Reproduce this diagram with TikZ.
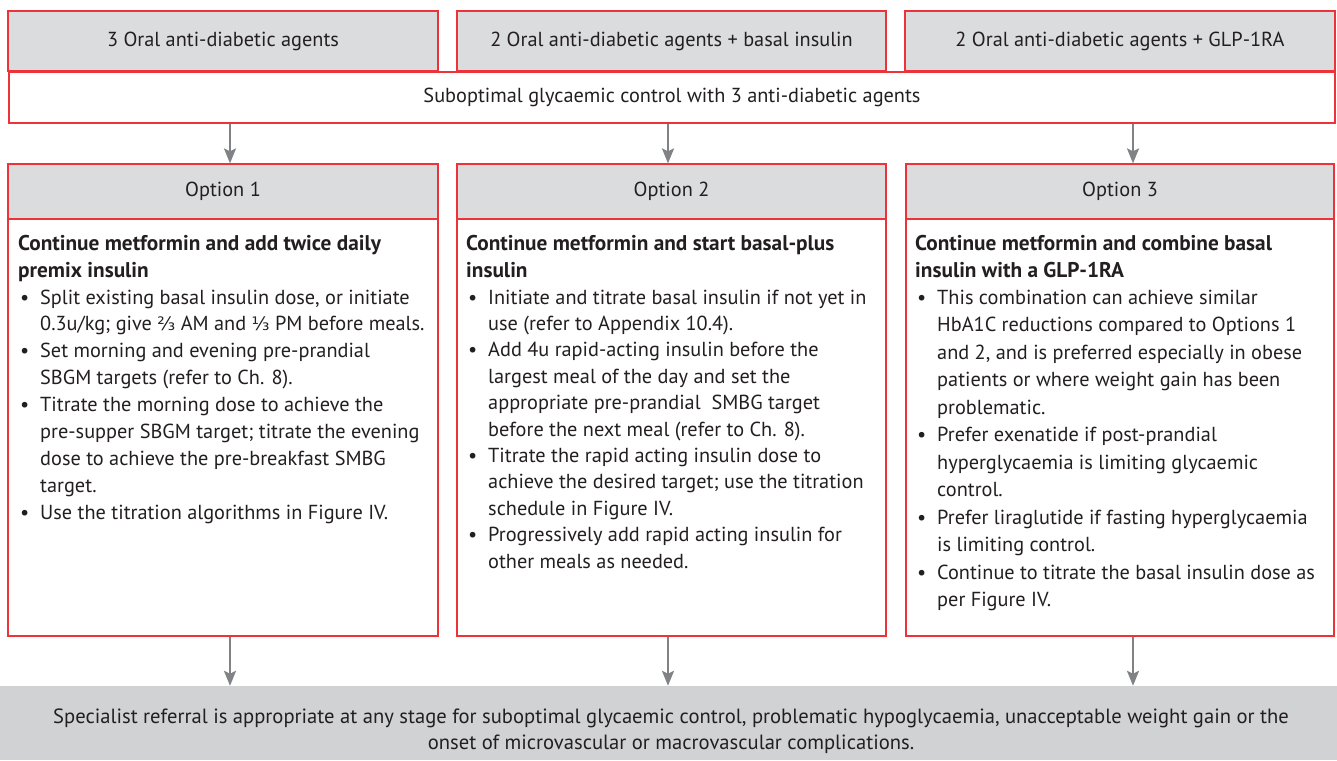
\documentclass[tikz,border=0pt]{standalone}
\usepackage{fontspec}
\setmainfont{PT Sans}
\newfontfamily\dejavu{DejaVu Sans}
\usetikzlibrary{arrows.meta}
\definecolor{boxred}{RGB}{237,50,58}
\definecolor{hdrgray}{RGB}{219,220,222}
\definecolor{botgray}{RGB}{209,210,212}
\definecolor{arrgray}{RGB}{128,130,133}
\definecolor{txt}{RGB}{35,31,32}
\newcommand{\sizeat}[1]{\fontsize{20.3}{#1}\selectfont\setbox\strutbox\hbox{\vrule height 0.7\baselineskip depth 0.3\baselineskip width 0pt}}
\newcommand{\bodysize}{\sizeat{27.3}}
\newcommand{\bt}{\hspace{2pt}\textbullet}
\newcommand{\fr}[1]{{\dejavu\fontsize{18.5}{20}\selectfont #1}}
\tikzset{
  hdrbox/.style={draw=boxred, line width=1.2pt, fill=hdrgray, inner sep=0pt, text=txt, font=\bodysize},
  whitebox/.style={draw=boxred, line width=1.2pt, fill=white, inner sep=0pt, text=txt, font=\bodysize},
  boldtext/.style={inner sep=0pt, anchor=base west, text=txt, align=left, font=\fontsize{21.3}{27}\selectfont\bfseries},
  bodytext/.style={inner sep=0pt, anchor=base west, text=txt},
  arr/.style={draw=arrgray, line width=2.4pt, -{Stealth[width=12pt,length=15pt,inset=3pt]}},
}
\begin{document}
\begin{tikzpicture}[x=1pt,y=-1pt]
\useasboundingbox (0,0) rectangle (1337,760);
% top row
\node[hdrbox, minimum width=430pt, minimum height=60pt] (t1) at (223,41) {3 Oral anti-diabetic agents};
\node[hdrbox, minimum width=429pt, minimum height=60pt] (t2) at (671.5,41) {2 Oral anti-diabetic agents + basal insulin};
\node[hdrbox, minimum width=430pt, minimum height=60pt] (t3) at (1120,41) {2 Oral anti-diabetic agents + GLP-1RA};
\node[whitebox, minimum width=1326pt, minimum height=51pt] (sub) at (672,97.5) {Suboptimal glycaemic control with 3 anti-diabetic agents};
% option headers
\node[hdrbox, minimum width=430pt, minimum height=55pt] (o1) at (223,191.5) {Option 1};
\node[hdrbox, minimum width=429pt, minimum height=55pt] (o2) at (671.5,191.5) {Option 2};
\node[hdrbox, minimum width=428pt, minimum height=55pt] (o3) at (1120,191.5) {Option 3};
% option bodies
\node[whitebox, minimum width=430pt, minimum height=417pt] (b1) at (223,427.5) {};
\node[whitebox, minimum width=429pt, minimum height=417pt] (b2) at (671.5,427.5) {};
\node[whitebox, minimum width=428pt, minimum height=417pt] (b3) at (1120,427.5) {};
% bottom
\node[fill=botgray, draw=none, minimum width=1337pt, minimum height=74pt, inner sep=0pt] (bot) at (668.5,723) {};
\node[text=txt, align=center, font=\fontsize{20.6}{26}\selectfont, inner sep=0pt] (bottxt) at (671,731) {Specialist referral is appropriate at any stage for suboptimal glycaemic control, problematic hypoglycaemia, unacceptable weight gain or the\\onset of microvascular or macrovascular complications.};
% body headings (base anchor = last line)
\node[boldtext] (h1) at (18,277) {Continue metformin and add twice daily\\premix insulin};
\node[boldtext] (h2) at (466,277) {Continue metformin and start basal-plus\\insulin};
\node[boldtext] (h3) at (915,277) {Continue metformin and combine basal\\insulin with a GLP-1RA};
% body texts
\node[bodytext, font=\sizeat{26.9}] (x1) at (18,304) {\begin{tabular}[t]{@{}p{22pt}@{}l@{}}
\bt & Split existing basal insulin dose, or initiate\\
 & 0.3u/kg; give \fr{⅔} AM and \fr{⅓} PM before meals.\\
\bt & Set morning and evening pre-prandial\\
 & SBGM targets (refer to Ch. 8).\\
\bt & Titrate the morning dose to achieve the\\
 & pre-supper SBGM target; titrate the evening\\
 & dose to achieve the pre-breakfast SMBG\\
 & target.\\
\bt & Use the titration algorithms in Figure IV.
\end{tabular}};
\node[bodytext, font=\sizeat{26.4}] (x2) at (466,304) {\begin{tabular}[t]{@{}p{22pt}@{}l@{}}
\bt & Initiate and titrate basal insulin if not yet in\\
 & use (refer to Appendix 10.4).\\
\bt & Add 4u rapid-acting insulin before the\\
 & largest meal of the day and set the\\
 & appropriate pre-prandial\ \ SMBG target\\
 & before the next meal (refer to Ch. 8).\\
\bt & Titrate the rapid acting insulin dose to\\
 & achieve the desired target; use the titration\\
 & schedule in Figure IV.\\
\bt & Progressively add rapid acting insulin for\\
 & other meals as needed.
\end{tabular}};
\node[bodytext, font=\sizeat{27.5}] (x3) at (915,304) {\begin{tabular}[t]{@{}p{22pt}@{}l@{}}
\bt & This combination can achieve similar\\
 & HbA1C reductions compared to Options 1\\
 & and 2, and is preferred especially in obese\\
 & patients or where weight gain has been\\
 & problematic.\\
\bt & Prefer exenatide if post-prandial\\
 & hyperglycaemia is limiting glycaemic\\
 & control.\\
\bt & Prefer liraglutide if fasting hyperglycaemia\\
 & is limiting control.\\
\bt & Continue to titrate the basal insulin dose as\\
 & per Figure IV.
\end{tabular}};
% arrows
\draw[arr] (sub.south -| 230,0) -- (o1.north -| 230,0);
\draw[arr] (sub.south -| 668,0) -- (o2.north -| 668,0);
\draw[arr] (sub.south -| 1133,0) -- (o3.north -| 1133,0);
\draw[arr] (b1.south -| 230,0) -- (bot.north -| 230,0);
\draw[arr] (b2.south -| 668,0) -- (bot.north -| 668,0);
\draw[arr] (b3.south -| 1133,0) -- (bot.north -| 1133,0);
\end{tikzpicture}
\end{document}
